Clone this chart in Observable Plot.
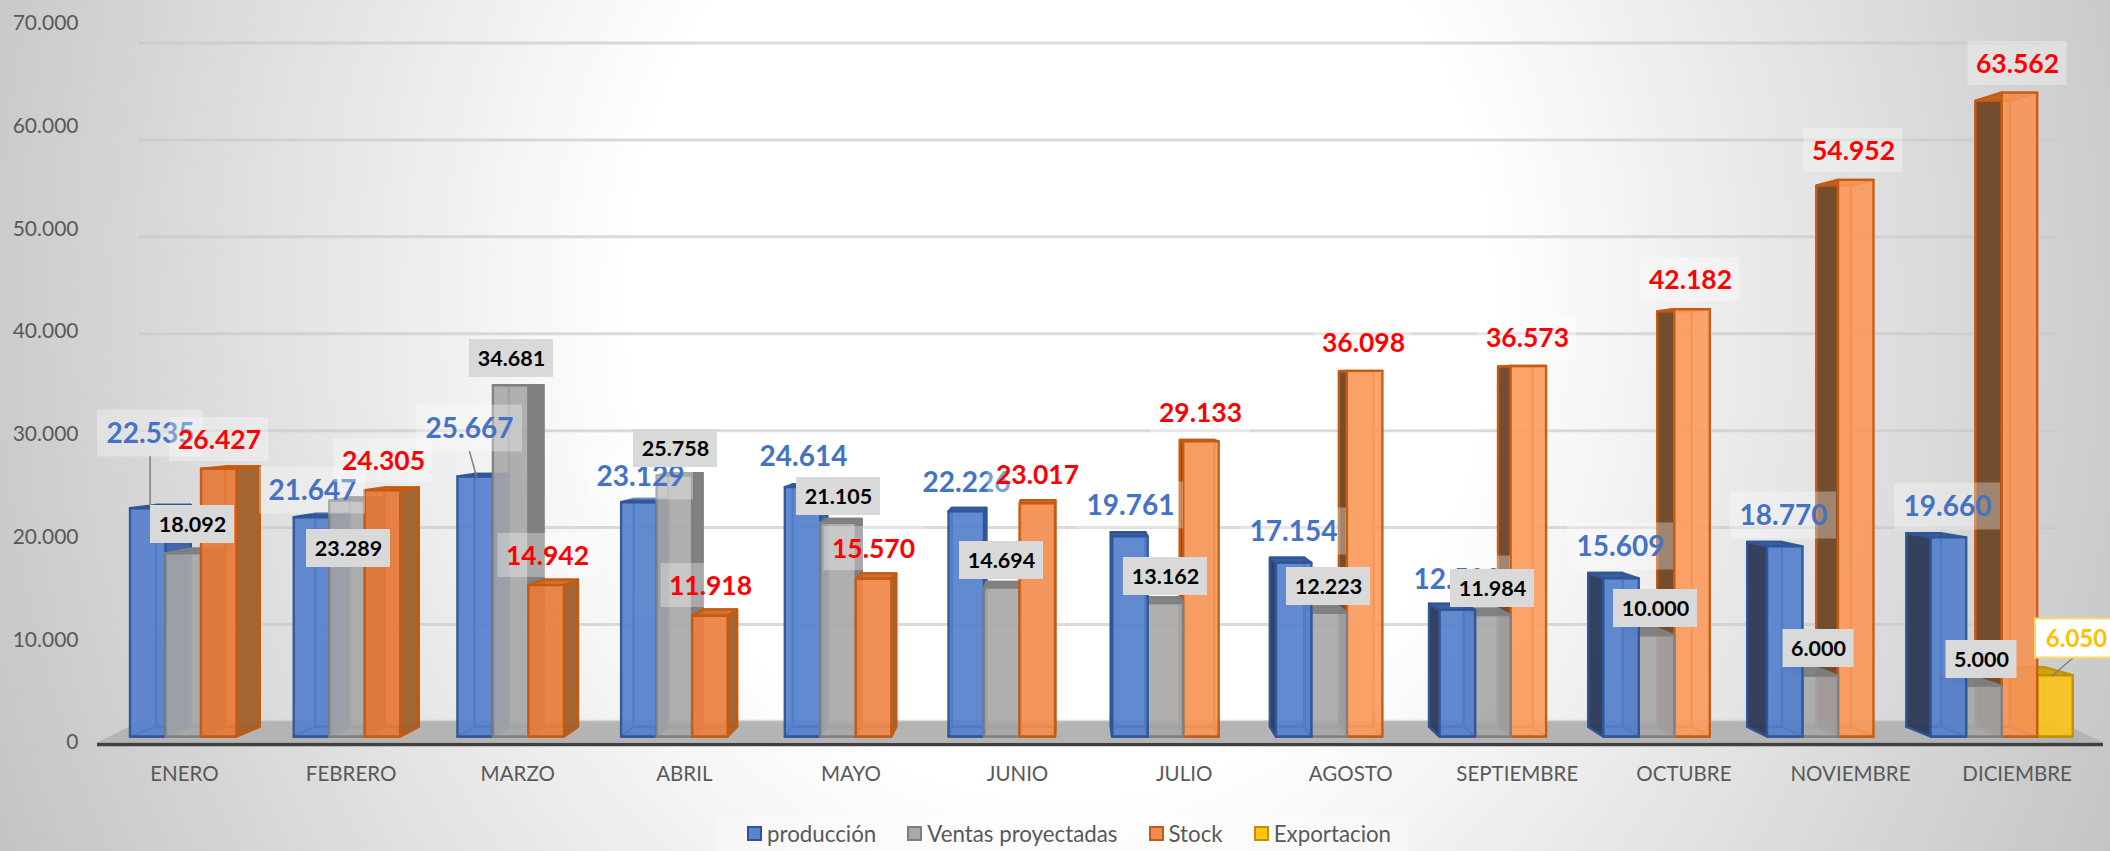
<!DOCTYPE html>
<html lang="es">
<head>
<meta charset="utf-8">
<script src="https://cdn.jsdelivr.net/npm/d3@7"></script>
<script src="https://cdn.jsdelivr.net/npm/@observablehq/plot@0.6"></script>
<style>
html,body{margin:0;padding:0;width:2110px;height:851px;overflow:hidden}
#page{width:2110px;height:851px;background:radial-gradient(ellipse 1300px 1500px at 1060px 300px,#fff 33%,#b8b8b8 100%);font-family:Lato,sans-serif}
#chart svg{display:block}
#legend{box-sizing:border-box;margin-left:716px;width:692px;height:36px;padding-left:31px;display:flex;align-items:center;background:rgba(255,255,255,.35);font-size:22.3px;color:#595959}
#legend .s{width:11px;height:11px;border:2px solid;margin-right:5px;flex:none}
#legend .t{margin-right:31px;white-space:nowrap}
</style>
</head>
<body>
<div id="page"><div id="chart"></div><div id="legend"></div></div>
<script>
// ---- data ----
const months = ["ENERO","FEBRERO","MARZO","ABRIL","MAYO","JUNIO","JULIO","AGOSTO","SEPTIEMBRE","OCTUBRE","NOVIEMBRE","DICIEMBRE"];
const produccion = [22535,21647,25667,23129,24614,22226,19761,17154,12500,15609,18770,19660];
const ventas = [18092,23289,34681,25758,21105,14694,13162,12223,11984,10000,6000,5000];
const stock = [26427,24305,14942,11918,15570,23017,29133,36098,36573,42182,54952,63562];
const exportacion = [null,null,null,null,null,null,null,null,null,null,null,6050];
const yTicks = [0,10000,20000,30000,40000,50000,60000,70000];
const seriesNames = ["producción","Ventas proyectadas","Stock","Exportacion"];

// ---- manually placed data labels (page pixels, label centres, as in the reference) ----
const placeProd = [[150,433],[312,490],[469,428],[640,476],[803,456],[966,482],[1130,505],[1293,531],[1457,579],[1620,546],[1783,515],[1947,506]];
const placeVentas = [[192,524],[348,548],[511,358],[675,448],[838,496],[1001,560],[1165,576],[1328,586],[1492,588],[1655,608],[1818,648],[1981,659]];
const placeStock = [[219,439],[383,460],[547,555],[710,585],[873,548],[1037,474],[1200,412],[1363,342],[1527,337],[1690,279],[1853,150],[2017,63]];
const placeExport = [[2076,638]];

// ---- scale geometry ----
const W = 2110, H = 815;
const x0px = 129.5, monthPx = 163.7, base = 736, pxPerUnit = 0.01013;
const toX = p => (p - x0px) / monthPx;
const toY = p => (base - p) / pxPerUnit;
const slot = 35.5 / monthPx;
const vx = toX(1064), vy = toY(387);      // vanishing point of the 3D view
const kBar = 0.028, kWall = 0.0434;
const fmt = d3.formatLocale({decimal:",",thousands:".",grouping:[3],currency:["",""]}).format(",d");

const styles = [
  {front:"rgba(84,128,205,.88)", back:"rgba(84,128,205,.35)", inner:"rgba(60,100,175,.22)", sideL:"rgba(60,95,165,.95)", sideR:"rgba(48,60,90,.97)", top:"rgba(52,88,155,.95)", stroke:"rgba(47,85,151,.95)"},
  {front:"rgba(168,168,168,.86)", back:"rgba(170,170,170,.4)", inner:"rgba(140,140,140,.2)", sideL:"rgba(125,125,125,.97)", sideR:"rgba(160,150,145,.8)", top:"rgba(125,125,125,.95)", stroke:"rgba(127,127,127,.95)"},
  {front:"rgba(240,135,72,.86)", back:"rgba(250,160,100,.5)", inner:"rgba(220,110,40,.2)", sideL:"rgba(160,98,48,.97)", sideR:"rgba(112,74,44,.98)", top:"rgba(200,105,35,.9)", stroke:"rgba(197,90,17,.95)"},
  {front:"rgba(248,196,32,.92)", back:"rgba(255,192,0,.5)", inner:"rgba(220,170,10,.3)", sideL:"rgba(199,154,16,.95)", sideR:"rgba(199,154,16,.95)", top:"rgba(205,160,10,.95)", stroke:"rgba(191,144,0,.95)"}
];
// the stock bars get lighter towards the right of the chart
const stockFront = ["rgba(228,122,56,.9)","rgba(228,122,56,.9)","rgba(232,126,60,.9)","rgba(234,130,66,.9)","rgba(238,136,74,.88)","rgba(242,142,80,.88)","rgba(246,150,88,.88)","rgba(250,156,94,.88)","rgba(252,158,96,.88)","rgba(252,156,94,.88)","rgba(250,152,90,.88)","rgba(246,148,86,.88)"];

const back = (p, k) => [p[0] + (vx - p[0]) * k, p[1] + (vy - p[1]) * k];

// polygons of every 3D bar, in painter's order, all derived from the values
const polys = [];
let pid = 0;
function addPoly(pts, fill, stroke) {
  const id = pid++;
  [...pts, pts[0]].forEach(p => polys.push({id, x:p[0], y:p[1], fill, stroke}));
}
function addBar(i, s, v) {
  if (v == null) return;
  const st = styles[s];
  const a = i + s * slot, b = a + slot;
  const fl = [a,0], fr = [b,0], tl = [a,v], tr = [b,v];
  const [bfl,bfr,btl,btr] = [fl,fr,tl,tr].map(p => back(p, kBar));
  const leftOfCentre = b < vx;
  addPoly([bfl,bfr,btr,btl], st.back, st.stroke);
  addPoly([fl,fr,bfr,bfl], st.inner, st.stroke);
  if (leftOfCentre) {
    addPoly([fl,tl,btl,bfl], st.inner, "rgba(0,0,0,0)");
    addPoly([fr,tr,btr,bfr], st.sideL, st.stroke);
  } else {
    addPoly([fr,tr,btr,bfr], st.inner, "rgba(0,0,0,0)");
    addPoly([fl,tl,btl,bfl], st.sideR, st.stroke);
  }
  addPoly([tl,tr,btr,btl], st.top, st.stroke);
  addPoly([fl,fr,tr,tl], s === 2 ? stockFront[i] : st.front, st.stroke);
}
const allSeries = [produccion, ventas, stock, exportacion];
months.forEach((m, i) => {
  const order = (i + 2 * slot < vx) ? [0,1,2,3] : [3,2,1,0];
  order.forEach(s => addBar(i, s, allSeries[s][i]));
});

// floor: front edge on the axis line, back edge where the wall's zero lies
const floorY = toY(742), fxL = toX(97), fxR = toX(2103);
const wallZero = back([0,0],kWall)[1];
const gridX1 = back([fxL,0],kWall)[0], gridX2 = back([fxR,0],kWall)[0];
const floorPts = [[fxL,floorY],[fxR,floorY],[gridX2,wallZero],[gridX1,wallZero]];
const floorPoly = [...floorPts, floorPts[0]].map(p => ({x:p[0], y:p[1]}));

// labels
function labelRows(values, places, w, h) {
  return values.map((v,i) => v == null ? null : {v, x:toX(places[i][0]), y:toY(places[i][1]),
    x1:toX(places[i][0]-(typeof w==="function"?w(v):w)/2), x2:toX(places[i][0]+(typeof w==="function"?w(v):w)/2),
    y1:toY(places[i][1]+h/2), y2:toY(places[i][1]-h/2)}).filter(Boolean);
}
const lblProd = labelRows(produccion, placeProd, 106, 47);
const lblVentas = labelRows(ventas, placeVentas, v => v < 10000 ? 71 : 84, 38);
const lblStock = labelRows(stock, placeStock, 99, 44);
const lblExport = labelRows([6050], placeExport, 82, 39);

const leaders = [
  [[149.6,456],[149.6,505]],
  [[469,451],[476,476]],
  [[2073,657],[2052,675]]
].flatMap((seg,id) => seg.map(p => ({id, x:toX(p[0]), y:toY(p[1])})));

const textBase = {textAnchor:"middle", lineAnchor:"middle", fontFamily:"Lato, sans-serif", fontWeight:700};
const plot = Plot.plot({
  width: W, height: H,
  marginLeft: 0, marginRight: 0, marginTop: 0, marginBottom: 0,
  style: {background:"transparent", overflow:"visible"},
  x: {domain:[toX(0), toX(W)], range:[0,W], axis:null},
  y: {domain:[toY(H), toY(0)], range:[H,0], axis:null},
  color: {type:"identity"},
  marks: [
    Plot.ruleY(yTicks, {y: v => v + (vy - v) * kWall, x1: gridX1, x2: gridX2, stroke:"#c8c8c8", strokeOpacity:.65, strokeWidth:3}),
    Plot.line(floorPoly, {x:"x", y:"y", fill:"#b4b4b4", stroke:"none"}),
    Plot.ruleY([toY(744)], {x1:fxL, x2:fxR, stroke:"#404040", strokeWidth:3.5}),
    Plot.line(polys, {x:"x", y:"y", z:"id", fill:"fill", stroke:"stroke", strokeWidth:2.4, strokeLinejoin:"round"}),
    Plot.line(leaders, {x:"x", y:"y", z:"id", stroke:"#7f7f7f", strokeWidth:1.5}),
    // axis labels sit on the front edge of the 3D box
    Plot.text(yTicks, {x: toX(78), y: v => toY(742) + v * 10.27 / 10.13, text: fmt, textAnchor:"end", lineAnchor:"middle", fontFamily:"Lato, sans-serif", fontSize:21, fill:"#595959"}),
    Plot.text(months, {x: (m,i) => toX(184) + i * 166.6 / monthPx, y: toY(774), text: m => m, textAnchor:"middle", lineAnchor:"middle", fontFamily:"Lato, sans-serif", fontSize:20.5, fill:"#595959"}),
    // data labels
    Plot.rect(lblProd, {x1:"x1", x2:"x2", y1:"y1", y2:"y2", fill:"#fff", fillOpacity:.32}),
    Plot.text(lblProd, {...textBase, x:"x", y:"y", dy:1, text: d => fmt(d.v), fontSize:28, fill:"#4472c4"}),
    Plot.rect(lblVentas, {x1:"x1", x2:"x2", y1:"y1", y2:"y2", fill:"#d9d9d9"}),
    Plot.text(lblVentas, {...textBase, x:"x", y:"y", dy:1, text: d => fmt(d.v), fontSize:21.5, fill:"#000"}),
    Plot.rect(lblStock, {x1:"x1", x2:"x2", y1:"y1", y2:"y2", fill:"#fff", fillOpacity:.32}),
    Plot.text(lblStock, {...textBase, x:"x", y:"y", dy:1, text: d => fmt(d.v), fontSize:26.5, fill:"#f00"}),
    Plot.rect(lblExport, {x1:"x1", x2:"x2", y1:"y1", y2:"y2", fill:"#fff", stroke:"#ffd966", strokeWidth:2}),
    Plot.text(lblExport, {...textBase, x:"x", y:"y", dy:1, text: d => fmt(d.v), fontSize:24, fill:"#ffc000"})
  ]
});
document.getElementById("chart").appendChild(plot);

const legendFill = ["#5b82cc","#a9a9a9","#ee8c50","#ffc515"];
const legendEdge = ["#2f5597","#7f7f7f","#c55a11","#bf9000"];
const lg = document.getElementById("legend");
seriesNames.forEach((n,i) => {
  const s = document.createElement("span"); s.className = "s"; s.style.background = legendFill[i]; s.style.borderColor = legendEdge[i];
  const t = document.createElement("span"); t.className = "t"; t.textContent = n;
  lg.append(s, t);
});
</script>
</body>
</html>
